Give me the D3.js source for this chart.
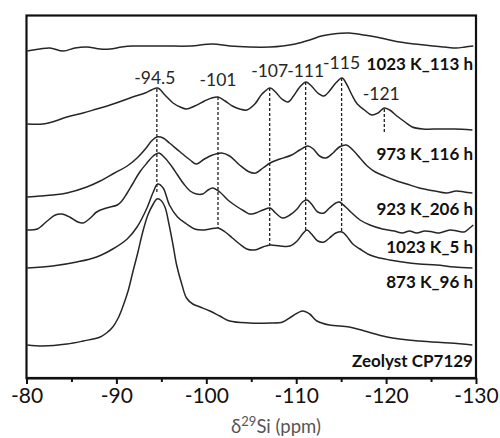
<!DOCTYPE html>
<html>
<head>
<meta charset="utf-8">
<script src="https://cdn.jsdelivr.net/npm/d3@7"></script>
<style>
  html, body { margin: 0; padding: 0; background: #fff; }
  svg { display: block; }
</style>
</head>
<body>
<svg id="chart" width="500" height="438"></svg>
<script>
// ---------------- DATA ----------------
// x: chemical shift (ppm), y: stacked intensity (arbitrary units)
const seriesNames = ["1023 K_113 h", "973 K_116 h", "923 K_206 h", "1023 K_5 h", "873 K_96 h", "Zeolyst CP7129"];

const s1023K113h = [
  [-80.1,326],[-81.5,328],[-82.6,329],[-84.1,326],[-85.4,329],[-86.7,330],[-88.2,328],[-89.3,328],
  [-90.6,330],[-91.8,331],[-93.7,331],[-95.6,331],[-98.2,331],[-100.7,333],[-102.6,331],[-104.8,330],
  [-107.1,330],[-108.5,331],[-109.9,333],[-111.5,337],[-112.8,341],[-114.1,343],[-115.9,344],
  [-117.5,342],[-118.9,340],[-120.4,337],[-121.5,335],[-123.2,333],[-125.2,331],[-126.5,330],
  [-127.8,329],[-128.8,330],[-129.7,331]
];

const s973K116h = [
  [-80.1,253],[-81.8,253],[-83.2,256],[-84.5,260],[-86.3,264],[-87.8,268],[-89.3,272],[-90.6,276],
  [-91.8,280],[-93.2,284],[-93.9,287],[-94.6,289],[-95.4,282],[-96.3,274],[-97.1,270],[-97.8,268],
  [-98.7,271],[-99.8,276],[-100.6,279],[-101.3,280],[-102.1,276],[-102.9,271],[-103.7,268],
  [-104.5,267],[-105.4,273],[-106.2,283],[-107.1,289],[-107.7,285],[-108.4,278],[-109.1,275],
  [-109.7,281],[-110.4,290],[-111.1,295],[-111.7,291],[-112.4,284],[-113.1,281],[-113.7,286],
  [-114.4,294],[-115.1,299],[-115.6,293],[-116.2,282],[-116.8,273],[-117.6,267],[-118.4,262],
  [-119.1,264],[-119.8,269],[-120.4,267],[-121.2,261],[-122.1,255],[-122.9,250],[-124.1,248],
  [-125.9,248],[-127.6,248],[-129.6,247]
];

const s923K206h = [
  [-80.1,180],[-81.5,181],[-82.9,182],[-84.5,184],[-86.7,190],[-88.2,196],[-89.8,204],[-91.2,211],
  [-92.3,219],[-93.4,230],[-93.9,236],[-94.5,240],[-95.2,239],[-95.9,234],[-97.1,225],[-98.2,217],
  [-98.9,213],[-99.8,218],[-100.7,222],[-101.7,224],[-102.6,221],[-103.7,212],[-104.8,205],
  [-105.5,204],[-106.3,209],[-107.1,214],[-108.2,218],[-109.5,222],[-110.4,227],[-111.3,231],
  [-111.9,228],[-112.6,221],[-113.3,219],[-114.1,224],[-114.8,230],[-115.6,232],[-116.3,227],
  [-117.1,219],[-117.9,211],[-118.8,205],[-119.8,201],[-120.9,197],[-122.3,193],[-123.7,189],
  [-125.4,186],[-126.7,184],[-127.8,186],[-128.7,185],[-129.6,184]
];

const s1023K5h = [
  [-80.1,147],[-81.2,148],[-82.3,156],[-83.2,162],[-83.9,163],[-84.8,160],[-85.7,155],[-86.3,154],
  [-87.1,159],[-87.8,165],[-88.9,169],[-90.1,172],[-90.6,176],[-91.2,184],[-91.8,193],[-92.6,205],
  [-93.4,214],[-94.1,221],[-94.7,224],[-95.4,219],[-96.2,210],[-96.8,202],[-97.5,193],[-98.2,186],
  [-98.9,183],[-99.6,183],[-100.2,187],[-100.7,189],[-101.5,185],[-102.4,177],[-103.3,171],
  [-104.2,166],[-104.8,163],[-105.5,164],[-106.3,167],[-107.1,169],[-107.7,164],[-108.5,159],
  [-109.3,162],[-110.1,168],[-110.7,175],[-111.2,177],[-111.7,173],[-112.4,165],[-113.1,164],
  [-113.7,169],[-114.4,174],[-114.8,175],[-115.5,170],[-116.2,164],[-117.1,157],[-118.2,152],
  [-119.6,148],[-120.9,146],[-121.8,144],[-122.6,146],[-123.4,144],[-124.3,146],[-125.2,145],
  [-125.9,144],[-127.1,147],[-127.9,146],[-128.7,145],[-129.3,149],[-129.7,152]
];

const s873K96h = [
  [-80.1,109],[-82.9,111],[-85.6,115],[-87.8,120],[-89.6,128],[-91.2,138],[-92.3,150],[-93.4,169],
  [-94.1,185],[-94.6,193],[-95.2,189],[-95.9,172],[-96.8,160],[-97.8,153],[-98.7,148],[-99.6,147],
  [-100.4,148],[-101.3,149],[-102.1,145],[-102.9,139],[-103.7,133],[-104.5,128],[-105.4,127],
  [-106.3,130],[-107.1,132],[-108.2,131],[-109.3,131],[-110.1,136],[-110.7,143],[-111.2,147],
  [-111.7,143],[-112.4,136],[-113.1,135],[-113.7,139],[-114.4,144],[-115.1,145],[-115.6,141],
  [-116.3,133],[-117.1,128],[-118.2,122],[-119.3,119],[-120.4,117],[-121.8,115],[-123.7,113],
  [-125.6,112],[-127.6,110],[-129.6,109]
];

const sZeolystCP7129 = [
  [-80.1,32],[-81.8,31],[-84.5,33],[-86.3,36],[-88.2,40],[-88.9,44],[-89.6,50],[-90.2,59],[-90.7,70],
  [-91.3,86],[-91.8,104],[-92.4,125],[-92.9,144],[-93.5,162],[-94.1,173],[-94.5,178],[-94.9,177],
  [-95.4,170],[-95.8,155],[-96.3,132],[-96.7,112],[-97.3,92],[-97.8,79],[-98.5,73],[-99.3,70],
  [-100.4,66],[-101.5,61],[-102.6,56],[-104.8,54],[-107.1,54],[-108.5,55],[-109.6,61],[-110.7,66],
  [-111.5,63],[-112.3,56],[-113.7,52],[-115.9,50],[-117.6,46],[-120.1,40],[-123.7,36],[-127.1,34],
  [-129.6,32]
];

// Peak markers: text, position (ppm) of dashed line, top / bottom of dashed line (intensity units)
const peakLabels = ["-94.5", "-101", "-107", "-111", "-115", "-121"];
const peakPositions = [-94.5, -101.3, -107.05, -111.05, -115.05, -119.8];
const peakLineTop = [288, 280, 289, 295, 299, 268];
const peakLineBottom = [185, 149, 132, 147, 145, 245];

// Axis ticks
const majorTicks = [-80, -90, -100, -110, -120, -130];
const minorTicks = [-85, -95, -105, -115, -125];
const xTitleMain = "δ";
const xTitleSup = "29";
const xTitleRest = "Si (ppm)";

// ---------------- DRAWING ----------------
const allSeries = [s1023K113h, s973K116h, s923K206h, s1023K5h, s873K96h, sZeolystCP7129];

const svg = d3.select("#chart");
const plot = { left: 26.5, right: 476, top: 15.5, bottom: 378 };

const x = d3.scaleLinear().domain([-80, -130]).range([plot.left, plot.right]);
const y = d3.scaleLinear().domain([0, 362]).range([377, 15]);

const line = d3.line()
  .x(d => x(d[0]))
  .y(d => y(d[1]))
  .curve(d3.curveCatmullRom.alpha(0.5));

// curves
svg.append("g")
  .selectAll("path")
  .data(allSeries)
  .join("path")
  .attr("d", line)
  .attr("fill", "none")
  .attr("stroke", "#262626")
  .attr("stroke-width", 1.5)
  .attr("stroke-linejoin", "round");

// dashed peak lines
svg.append("g")
  .selectAll("line")
  .data(peakPositions)
  .join("line")
  .attr("x1", d => x(d)).attr("x2", d => x(d))
  .attr("y1", (d, i) => y(peakLineTop[i]))
  .attr("y2", (d, i) => y(peakLineBottom[i]))
  .attr("stroke", "#222")
  .attr("stroke-width", 1.3)
  .attr("stroke-dasharray", "3,2");

// peak labels (baseline offset above the top of each dashed line, in px)
const peakLabelDy = [5, 11, 11, 5, 9, 9];
svg.append("g")
  .selectAll("text")
  .data(peakLabels)
  .join("text")
  .attr("x", (d, i) => x(peakPositions[i]) + (i === 0 ? -2 : (i === 5 ? -3 : 0)))
  .attr("y", (d, i) => y(peakLineTop[i]) - peakLabelDy[i])
  .attr("text-anchor", "middle")
  .attr("font-family", "Lato, 'Open Sans', sans-serif")
  .attr("font-size", 17.5)
  .attr("fill", "#262626")
  .text(d => d);

// series labels (right aligned), baseline in intensity units
const seriesLabelY = [307, 217, 162, 124, 89, 10];
const lblG = svg.append("g");
seriesNames.forEach((name, i) => {
  const t = lblG.append("text")
    .attr("x", plot.right - 3)
    .attr("y", y(seriesLabelY[i]))
    .attr("text-anchor", "end")
    .attr("font-family", "Lato, 'Open Sans', sans-serif")
    .attr("font-weight", "bold")
    .attr("font-size", 17)
    .attr("fill", "#111")
    .text(name);
  const bb = t.node().getBBox();
  lblG.insert("rect", () => t.node())
    .attr("x", bb.x - 1).attr("y", bb.y + 2)
    .attr("width", bb.width + 2).attr("height", bb.height - 4)
    .attr("fill", "#fff");
});

// frame
svg.append("rect")
  .attr("x", plot.left).attr("y", plot.top)
  .attr("width", plot.right - plot.left).attr("height", plot.bottom - plot.top)
  .attr("fill", "none")
  .attr("stroke", "#111")
  .attr("stroke-width", 2.2);

// x axis: major ticks with labels
const axisMajor = d3.axisBottom(x)
  .tickValues(majorTicks)
  .tickSize(6)
  .tickSizeOuter(0)
  .tickPadding(4)
  .tickFormat(d => String(d));
const gx = svg.append("g")
  .attr("transform", `translate(0,${plot.bottom})`)
  .call(axisMajor);
gx.select(".domain").attr("stroke", "#111").attr("stroke-width", 2.2);
gx.selectAll(".tick line").attr("stroke", "#111").attr("stroke-width", 2);
gx.selectAll(".tick text")
  .attr("font-family", "Lato, 'Open Sans', sans-serif")
  .attr("font-size", 21)
  .attr("fill", "#111");

// minor ticks
const axisMinor = d3.axisBottom(x)
  .tickValues(minorTicks)
  .tickSize(4)
  .tickSizeOuter(0)
  .tickFormat("");
const gm = svg.append("g")
  .attr("transform", `translate(0,${plot.bottom})`)
  .call(axisMinor);
gm.select(".domain").remove();
gm.selectAll(".tick line").attr("stroke", "#111").attr("stroke-width", 2);

// x axis title
const title = svg.append("text")
  .attr("x", 276)
  .attr("y", 433)
  .attr("text-anchor", "middle")
  .attr("font-family", "Lato, 'Open Sans', sans-serif")
  .attr("font-size", 18.5)
  .attr("fill", "#555");
title.append("tspan").text(xTitleMain);
title.append("tspan").attr("font-size", 13).attr("dy", -7).text(xTitleSup);
title.append("tspan").attr("dy", 7).text(xTitleRest);
</script>
</body>
</html>
